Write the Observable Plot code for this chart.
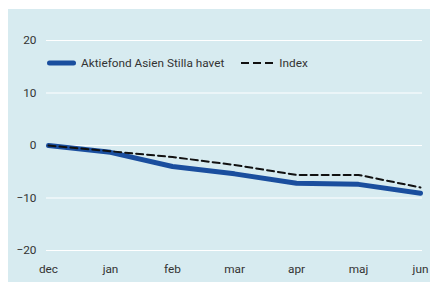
<!DOCTYPE html>
<html><head><meta charset="utf-8">
<script src="https://cdn.jsdelivr.net/npm/d3@7"></script>
<script src="https://cdn.jsdelivr.net/npm/@observablehq/plot@0.6"></script>
<style>
body{margin:0;background:#fff;font-family:Roboto,"DejaVu Sans",sans-serif;}
#wrap{position:absolute;left:8px;top:9px;width:422px;height:273px;background:#d7ebf0;overflow:hidden;}
#legend{position:absolute;left:39px;top:47px;font-size:11.8px;color:#333;display:flex;align-items:center;white-space:nowrap;}
#legend .item{display:flex;align-items:center;}
#legend svg{display:block;}
</style></head>
<body>
<div id="wrap"><div id="chart"></div>
<div id="legend"></div></div>
<script>
const months = ["dec","jan","feb","mar","apr","maj","jun"];
const fund = [0, -1.3, -4.0, -5.4, -7.2, -7.4, -9.1];
const index = [0, -1.1, -2.2, -3.7, -5.6, -5.6, -8.0];
const yTicks = [-20, -10, 0, 10, 20];
const seriesNames = ["Aktiefond Asien Stilla havet", "Index"];
const colors = {fund: "#1a4e9e", index: "#111"};

const fundData = months.map((m, i) => ({month: m, value: fund[i]}));
const indexData = months.map((m, i) => ({month: m, value: index[i]}));

const chart = Plot.plot({
  width: 422, height: 273,
  marginLeft: 38, marginRight: 8, marginTop: 31, marginBottom: 32,
  style: {background: "transparent", fontFamily: "Roboto, sans-serif", fontSize: "11.8px", color: "#333", overflow: "visible"},
  x: {type: "point", domain: months, padding: 0, label: null},
  y: {domain: [-20, 20], ticks: yTicks, label: null},
  marks: [
    Plot.gridY(yTicks, {stroke: "#fff", strokeOpacity: 1, strokeWidth: 1.2}),
    Plot.axisY(yTicks, {tickSize: 0, tickPadding: 10, fontSize: 11.8, fill: "#333", tickFormat: d => d < 0 ? "\u2212" + Math.abs(d) : d}),
    Plot.axisX(months, {tickSize: 0, tickPadding: 14, fontSize: 11.8, fill: "#333"}),
    Plot.line(fundData, {x: "month", y: "value", stroke: colors.fund, strokeWidth: 5, strokeLinejoin: "round", strokeLinecap: "round"}),
    Plot.line(indexData, {x: "month", y: "value", stroke: colors.index, strokeWidth: 2, strokeDasharray: "7,4"})
  ]
});
document.getElementById("chart").appendChild(chart);

const legend = document.getElementById("legend");
legend.innerHTML = `
<div class="item"><svg width="29" height="8" style="margin-right:5px"><line x1="2.5" y1="4" x2="26.5" y2="4" stroke="${colors.fund}" stroke-width="5" stroke-linecap="round"/></svg><span>${seriesNames[0]}</span></div>
<div class="item" style="margin-left:17px"><svg width="32" height="8" style="margin-right:6px"><line x1="0" y1="4" x2="32" y2="4" stroke="${colors.index}" stroke-width="2" stroke-dasharray="8,4"/></svg><span>${seriesNames[1]}</span></div>`;
</script>
</body></html>
